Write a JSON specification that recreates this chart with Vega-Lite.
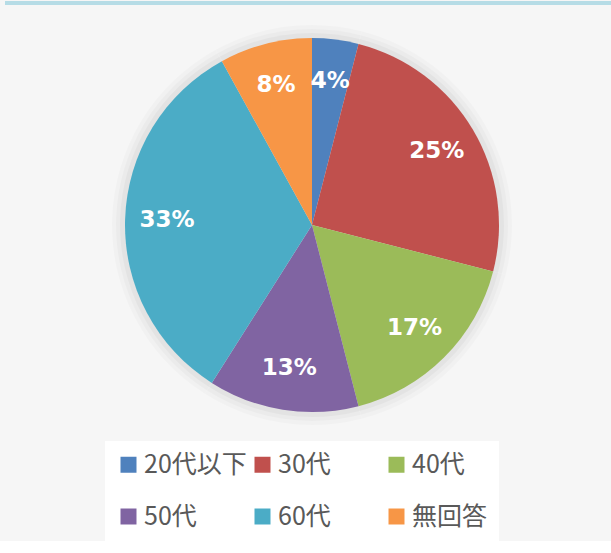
{
  "$schema": "https://vega.github.io/schema/vega-lite/v6.json",
  "background": "#f6f6f6",
  "padding": {"left": 5, "top": 0, "right": 0, "bottom": 0},
  "spacing": 4,
  "config": {"view": {"stroke": null}},
  "datasets": {
    "ages": [
      {"group": "20代以下", "share": 0.04},
      {"group": "30代", "share": 0.25},
      {"group": "40代", "share": 0.17},
      {"group": "50代", "share": 0.13},
      {"group": "60代", "share": 0.33},
      {"group": "無回答", "share": 0.08}
    ]
  },
  "vconcat": [
    {
      "width": 606,
      "height": 4,
      "view": {"fill": "#b6dce6", "stroke": null},
      "data": {"values": [{"k": 1}]},
      "mark": {"type": "point", "opacity": 0},
      "encoding": {}
    },
    {
      "width": 614,
      "height": 430,
      "data": {"name": "ages"},
      "encoding": {
        "theta": {"field": "share", "type": "quantitative", "stack": true},
        "order": {"field": "group", "type": "ordinal", "sort": "ascending"}
      },
      "layer": [
        {"mark": {"type": "arc", "outerRadius": 200, "fill": "#000000", "opacity": 0.02}},
        {"mark": {"type": "arc", "outerRadius": 196, "fill": "#000000", "opacity": 0.025}},
        {"mark": {"type": "arc", "outerRadius": 192, "fill": "#000000", "opacity": 0.03}},
        {
          "mark": {"type": "arc", "outerRadius": 187},
          "encoding": {
            "color": {
              "field": "group",
              "type": "nominal",
              "sort": ["20代以下", "30代", "40代", "50代", "60代", "無回答"],
              "scale": {
                "domain": ["20代以下", "30代", "40代", "50代", "60代", "無回答"],
                "range": ["#4f81bd", "#c0504d", "#9bbb59", "#8064a2", "#4bacc6", "#f79646"]
              },
              "legend": {
                "title": null,
                "orient": "none",
                "legendX": 100,
                "legendY": 440,
                "direction": "horizontal",
                "columns": 3,
                "gridAlign": "all",
                "columnPadding": 3,
                "rowPadding": 26,
                "symbolType": "square",
                "symbolSize": 256,
                "symbolStrokeWidth": 0,
                "labelFont": "Noto Sans CJK JP",
                "labelFontSize": 25,
                "labelColor": "#595959",
                "labelOffset": 3,
                "labelLimit": 0,
                "fillColor": "white",
                "padding": 11
              }
            }
          }
        },
        {
          "mark": {"type": "text", "radius": 145, "font": "DejaVu Sans", "fontWeight": "bold", "fontSize": 23, "fill": "white"},
          "encoding": {
            "text": {"field": "share", "type": "quantitative", "format": ".0%"}
          }
        }
      ]
    }
  ]
}
